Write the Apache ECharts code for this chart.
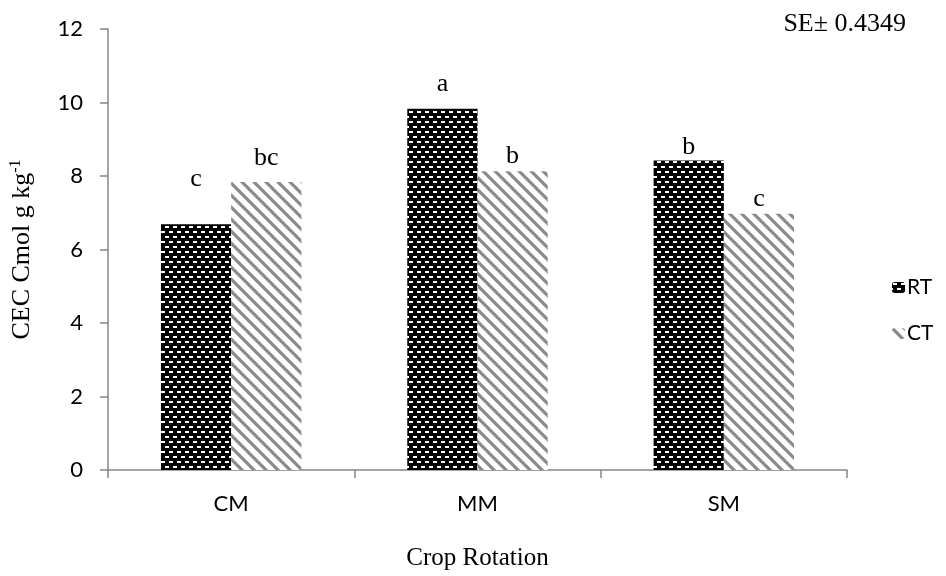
<!DOCTYPE html>
<html>
<head>
<meta charset="utf-8">
<script src="https://cdn.jsdelivr.net/npm/echarts@6/dist/echarts.min.js"></script>
<style>html,body{margin:0;padding:0;background:#fff}#c{width:946px;height:576px}</style>
</head>
<body>
<div id="c"></div>
<script>
var categories = ['CM', 'MM', 'SM'];
var seriesNames = ['RT', 'CT'];
var rtValues = [6.69, 9.83, 8.42];
var ctValues = [7.84, 8.13, 6.97];
var rtLetters = ['c', 'a', 'b'];
var ctLetters = ['bc', 'b', 'c'];
var seText = 'SE\u00b1 0.4349';

// label distances above bars (style only)
var rtLabelGap = [32, 12, 0];
var ctLabelGap = [11, 2, 2];

function makeDots() {
  var c = document.createElement('canvas');
  c.width = 8; c.height = 10;
  var g = c.getContext('2d');
  g.fillStyle = '#000'; g.fillRect(0, 0, 8, 10);
  g.fillStyle = '#fff';
  g.fillRect(1, 1, 4, 2);
  g.fillRect(5, 6, 3, 2);
  g.fillRect(0, 6, 1, 2);
  return c;
}
function makeStripes() {
  var c = document.createElement('canvas');
  c.width = 12; c.height = 12;
  var g = c.getContext('2d');
  g.fillStyle = '#fff'; g.fillRect(0, 0, 12, 12);
  g.strokeStyle = '#8a8a8a'; g.lineWidth = 3.2;
  g.beginPath();
  g.moveTo(-6, -6); g.lineTo(18, 18);
  g.moveTo(-6, 6); g.lineTo(6, 18);
  g.moveTo(6, -6); g.lineTo(18, 6);
  g.stroke();
  return c;
}
var rtColor = { image: makeDots(), repeat: 'repeat' };
var ctColor = { image: makeStripes(), repeat: 'repeat' };

function withLabels(values, gaps) {
  return values.map(function (v, i) {
    return { value: v, label: { distance: gaps[i] } };
  });
}

var chart = echarts.init(document.getElementById('c'), null, { renderer: 'canvas' });
var serif = 'Liberation Serif';
var sans = 'Lato';
chart.setOption({
  animation: false,
  backgroundColor: '#fff',
  grid: { left: 93, right: 99, top: 29, bottom: 88, containLabel: false },
  title: {
    text: seText, right: 35, top: 6,
    textStyle: { fontFamily: serif, fontSize: 26, fontWeight: 'normal', color: '#000' }
  },
  legend: {
    orient: 'vertical', left: 887, top: 272, itemWidth: 13, itemHeight: 11, itemGap: 25,
    data: seriesNames,
    textStyle: { fontFamily: sans, fontSize: 21, color: '#000', padding: [0, 0, 0, -3] }
  },
  xAxis: {
    type: 'category', data: categories,
    name: 'Crop Rotation', nameLocation: 'middle', nameGap: 76,
    nameTextStyle: { fontFamily: serif, fontSize: 25, color: '#000' },
    axisLine: { lineStyle: { color: '#868686', width: 1.5 } },
    axisTick: { show: true, length: 8, lineStyle: { color: '#868686', width: 1.5 } },
    axisLabel: { fontFamily: sans, fontSize: 22, color: '#000', margin: 23 }
  },
  yAxis: {
    type: 'value', min: 0, max: 12, interval: 2,
    name: '{a|CEC Cmol g kg}{s|-1}', nameLocation: 'middle', nameGap: 72, nameRotate: 90,
    nameTextStyle: {
      rich: {
        a: { fontFamily: serif, fontSize: 26, color: '#000' },
        s: { fontFamily: serif, fontSize: 16, color: '#000', verticalAlign: 'top', padding: [0, 0, 12, 0] }
      }
    },
    splitLine: { show: false },
    axisLine: { show: true, lineStyle: { color: '#868686', width: 1.5 } },
    axisTick: { show: true, length: 8, lineStyle: { color: '#868686', width: 1.5 } },
    axisLabel: { fontFamily: sans, fontSize: 22, color: '#000', margin: 25 }
  },
  series: [
    {
      name: seriesNames[0], type: 'bar', data: withLabels(rtValues, rtLabelGap),
      barGap: '0%', barCategoryGap: '43%',
      itemStyle: { color: rtColor },
      label: {
        show: true, position: 'top',
        formatter: function (p) { return rtLetters[p.dataIndex]; },
        fontFamily: serif, fontSize: 26, color: '#000'
      }
    },
    {
      name: seriesNames[1], type: 'bar', data: withLabels(ctValues, ctLabelGap),
      itemStyle: { color: ctColor },
      label: {
        show: true, position: 'top',
        formatter: function (p) { return ctLetters[p.dataIndex]; },
        fontFamily: serif, fontSize: 26, color: '#000'
      }
    }
  ]
});
</script>
</body>
</html>
